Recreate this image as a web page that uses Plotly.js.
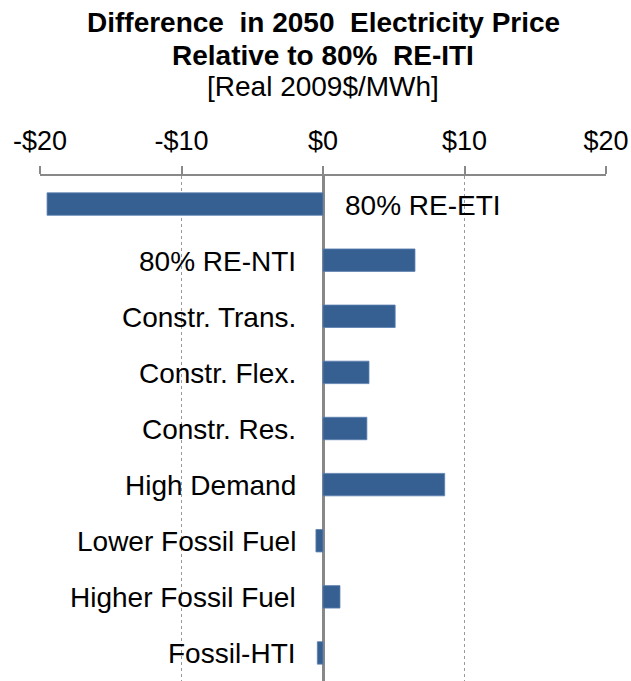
<!DOCTYPE html>
<html>
<head>
<meta charset="utf-8">
<script src="https://cdn.plot.ly/plotly-3.0.1.min.js"></script>
<style>html,body{margin:0;padding:0;background:#fff;}#chart{width:631px;height:681px;}</style>
</head>
<body>
<div id="chart"></div>
<script>
const categories = ["80% RE-ETI","80% RE-NTI","Constr. Trans.","Constr. Flex.","Constr. Res.","High Demand","Lower Fossil Fuel","Higher Fossil Fuel","Fossil-HTI"];
const priceDiff = [-19.5, 6.5, 5.1, 3.25, 3.1, 8.6, -0.5, 1.2, -0.4];
const tickVals = [-20, -10, 0, 10, 20];
const tickText = ["-$20", "-$10", "$0", "$10", "$20"];
const rightLabelCategories = ["80% RE-ETI"];
const titleLines = ["<b>Difference  in 2050  Electricity Price</b>", "<b>Relative to 80%  RE-ITI</b>", "[Real 2009$/MWh]"];

const FONT = "Arial, 'Liberation Sans', sans-serif";

const trace = {
  type: 'bar',
  orientation: 'h',
  x: priceDiff,
  y: categories,
  width: 0.4,
  marker: {color: '#376092', line: {color: '#5a7fb0', width: 0.8}},
  hoverinfo: 'x+y'
};

const annotations = categories.map(c => {
  const right = rightLabelCategories.includes(c);
  return {
    x: 0, y: c, xref: 'x', yref: 'y',
    text: c, showarrow: false,
    xanchor: right ? 'left' : 'right',
    xshift: right ? 20 : -25,
    yshift: -1,
    font: {family: FONT, size: 28, color: '#000'}
  };
});

const titleShifts = [154, 121, 90];
titleLines.forEach((t, i) => {
  annotations.push({
    x: 0.5, y: 1, xref: 'paper', yref: 'paper',
    xanchor: 'center', yanchor: 'middle',
    yshift: titleShifts[i],
    text: t, showarrow: false,
    font: {family: FONT, size: 28, color: '#000'}
  });
});

const layout = {
  width: 631, height: 681,
  margin: {l: 40, r: 25, t: 176, b: 0},
  paper_bgcolor: '#fff', plot_bgcolor: '#fff',
  showlegend: false,
  xaxis: {
    side: 'top',
    range: [-20, 20],
    tickvals: tickVals, ticktext: tickText,
    tickfont: {family: FONT, size: 27, color: '#000'},
    ticks: 'outside', ticklen: 8, tickcolor: '#888', tickwidth: 2,
    ticklabelstandoff: 5,
    showline: true, linecolor: '#888', linewidth: 2,
    showgrid: true, gridcolor: '#999', griddash: 'dot', gridwidth: 1.5,
    zeroline: true, zerolinecolor: '#888', zerolinewidth: 3,
    fixedrange: true
  },
  yaxis: {
    type: 'category',
    autorange: 'reversed',
    showticklabels: false, ticks: '',
    showgrid: false, zeroline: false, showline: false,
    fixedrange: true
  },
  annotations: annotations
};

Plotly.newPlot('chart', [trace], layout, {displayModeBar: false, staticPlot: true});
</script>
</body>
</html>
